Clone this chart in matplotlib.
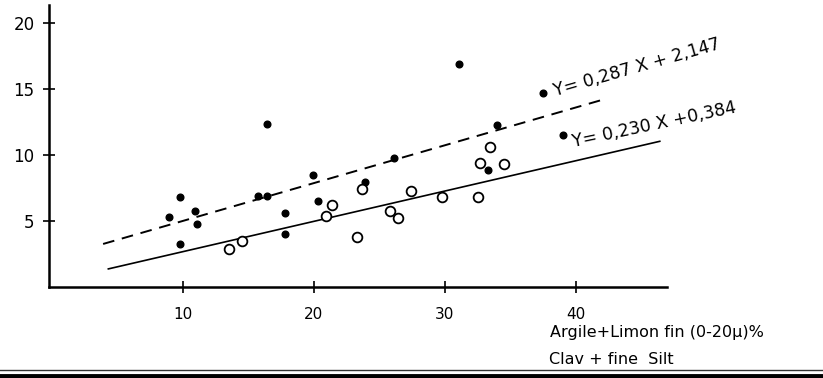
import numpy as np
import matplotlib
matplotlib.use("Agg")
import matplotlib.pyplot as plt
from matplotlib.lines import Line2D

plt.rcParams['font.family'] = ['DejaVu Sans']

# filled points (upper group)
filled_x = [8.9, 9.8, 9.8, 10.9, 11.1, 15.7, 16.4, 16.4, 17.8, 17.8, 19.9, 20.3,
            23.9, 26.1, 31.1, 33.3, 34.0, 37.5, 39.0]
filled_y = [5.3, 6.8, 3.3, 5.8, 4.8, 6.9, 6.9, 12.4, 5.6, 4.0, 8.5, 6.5,
            8.0, 9.8, 16.9, 8.85, 12.3, 14.7, 11.5]

# open circles (lower group)
open_x = [13.5, 14.5, 20.9, 21.4, 23.3, 23.7, 25.8, 26.4, 27.4, 29.8, 32.5,
          32.7, 33.4, 34.5]
open_y = [2.9, 3.5, 5.4, 6.2, 3.8, 7.4, 5.8, 5.2, 7.3, 6.8, 6.8,
          9.4, 10.6, 9.3]

# regression lines: slope, intercept, x range
dash_fit = (0.287, 2.147, 3.9, 42.0)
solid_fit = (0.230, 0.384, 4.3, 46.4)

x_ticks = [10, 20, 30, 40]
y_ticks = [5, 10, 15, 20]

fig = plt.figure(figsize=(8.23, 3.78), dpi=100)
ax = fig.add_axes([49 / 823, 91 / 378, 618 / 823, 282 / 378])
ax.set_xlim(-0.23, 46.95)
ax.set_ylim(0, 21.4)

for s in ['top', 'right']:
    ax.spines[s].set_visible(False)
ax.spines['left'].set_linewidth(1.8)
ax.spines['bottom'].set_linewidth(1.8)

ax.set_xticks(x_ticks)
ax.set_yticks(y_ticks)
ax.tick_params(direction='inout', length=9, width=1.2, pad=2)
ax.tick_params(axis='x', pad=10, labelsize=11)
ax.tick_params(axis='y', pad=6, labelsize=12)

for slope, icpt, x0, x1 in [dash_fit]:
    xx = np.array([x0, x1])
    ax.plot(xx, slope * xx + icpt, color='black', lw=1.4, ls=(0, (6, 4)))
for slope, icpt, x0, x1 in [solid_fit]:
    xx = np.array([x0, x1])
    ax.plot(xx, slope * xx + icpt, color='black', lw=1.2)

ax.plot(filled_x, filled_y, 'o', color='black', ms=4.8, clip_on=False)
ax.plot(open_x, open_y, 'o', mfc='white', mec='black', mew=1.3, ms=7, clip_on=False)

ax.text(38.4, 14.5, 'Y= 0,287 X + 2,147', rotation=16, rotation_mode='anchor',
        ha='left', va='baseline', fontsize=12.5)
ax.text(39.8, 10.6, 'Y= 0,230 X +0,384', rotation=12, rotation_mode='anchor',
        ha='left', va='baseline', fontsize=12.5)

fig.text(550 / 823, 1 - 337 / 378, 'Argile+Limon fin (0-20μ)%', fontsize=11.5,
         ha='left', va='baseline')
fig.text(549 / 823, 1 - 364 / 378, 'Clav + fine  Silt', fontsize=11.5,
         ha='left', va='baseline')

# scan border lines at the bottom
fig.add_artist(Line2D([0, 1], [1 - 369.5 / 378] * 2, color='#333333', lw=1.0))
fig.add_artist(Line2D([0, 1], [1 - 376 / 378] * 2, color='black', lw=3.5))

fig.savefig('out.png', dpi=100)
